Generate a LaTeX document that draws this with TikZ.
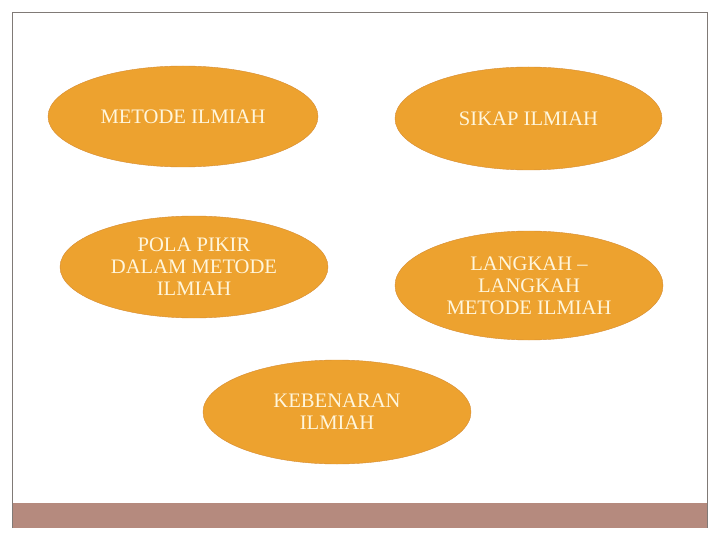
\documentclass[tikz,border=0pt]{standalone}
\usepackage{fontspec}
\setmainfont{Liberation Serif}
\usetikzlibrary{shapes.geometric}

\definecolor{topicfill}{RGB}{237,162,47}
\definecolor{topicline}{RGB}{214,140,50}
\definecolor{topictext}{RGB}{255,246,220}
\definecolor{framegray}{RGB}{128,122,118}
\definecolor{barbrown}{RGB}{181,138,126}

\tikzset{
	topic/.style = {ellipse, draw = topicline, fill = topicfill, thin, inner sep = 0pt,
		minimum width = 268pt, minimum height = 103pt, align = center,
		text = topictext, font = \fontsize{20.6}{22}\selectfont}
}

\begin{document}
\begin{tikzpicture}[x = 1pt, y = -1pt]

	% Page size and frame

	\useasboundingbox (0, 0) rectangle (720, 540);
	\fill [barbrown] (12, 503) rectangle (707, 528);
	\draw [framegray, line width = 0.8pt] (12, 528) -- (12, 12) -- (707, 12) -- (707, 528);

	% Topics

	\node [topic, minimum width = 270pt, minimum height = 101pt] (metode) at (183, 116.5) {METODE ILMIAH};
	\node [topic, minimum width = 267pt] (sikap) at (528.5, 118.5) {SIKAP ILMIAH};
	\node [topic, minimum height = 102pt] (pola) at (194, 267) {POLA PIKIR\\DALAM METODE\\ILMIAH};
	\node [topic, minimum height = 109pt] (langkah) at (529, 285.5) {LANGKAH --\\LANGKAH\\METODE ILMIAH};
	\node [topic, minimum height = 104pt] (kebenaran) at (337, 412) {KEBENARAN\\ILMIAH};

\end{tikzpicture}
\end{document}
